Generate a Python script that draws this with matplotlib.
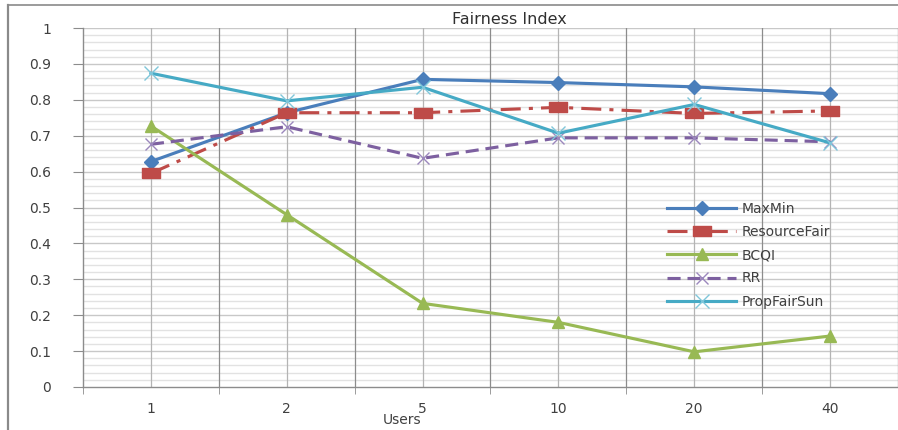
import numpy as np
import matplotlib
matplotlib.use("Agg")
import matplotlib.pyplot as plt
from matplotlib.lines import Line2D

# data
users = ["1", "2", "5", "10", "20", "40"]
maxmin = [0.628, 0.764, 0.857, 0.848, 0.836, 0.817]
resourcefair = [0.595, 0.764, 0.764, 0.779, 0.762, 0.769]
bcqi = [0.727, 0.480, 0.233, 0.180, 0.098, 0.142]
rr = [0.676, 0.725, 0.637, 0.694, 0.694, 0.683]
propfairsun = [0.874, 0.797, 0.835, 0.707, 0.787, 0.680]

W, H = 898, 430
fig = plt.figure(figsize=(W / 100, H / 100), dpi=100)
plt.rcParams['font.family'] = ['DejaVu Sans']

# plot area: left edge x=83, top y=28, bottom y=387, runs off the right side
ax = fig.add_axes([83 / W, (H - 387) / H, 1 - 83 / W, (387 - 28) / H])
x = np.arange(len(users))
ax.set_xlim(-0.5, (W - 152) / 137.6)
ax.set_ylim(0, 1)

# grid (excel look)
ax.set_yticks(np.arange(0, 1.01, 0.1))
ax.set_yticklabels(["0" if v == 0 else ("1" if v == 1 else "%.1f" % v) for v in np.arange(0, 1.01, 0.1)])
for y in np.arange(0.02, 1.001, 0.02):
    major = abs(y * 10 - round(y * 10)) < 1e-6
    ax.axhline(y, color="#c8c8c8" if major else "#e2e2e2", lw=1.0, zorder=0)
for i in x:
    ax.axvline(i, color="#b4b4b4", lw=0.9, zorder=0)
for b in np.arange(0.5, 6, 1):
    ax.axvline(b, color="#8c8c8c", lw=0.9, zorder=0)

ax.set_xticks(x)
ax.set_xticklabels(users)
ax.set_xticks(np.arange(-0.5, 6, 1), minor=True)
ax.tick_params(axis="x", which="major", length=0, pad=11, labelsize=10, colors="#404040")
ax.tick_params(axis="x", which="minor", length=5, color="#8c8c8c")
ax.tick_params(axis="y", which="major", length=7, color="#8c8c8c", pad=16, labelsize=10, labelcolor="#404040")
for s in ["top", "right"]:
    ax.spines[s].set_visible(False)
for s in ["left", "bottom"]:
    ax.spines[s].set_color("#8c8c8c")
    ax.spines[s].set_linewidth(1.0)

# wide flat box marker like the excel one
rect = [(-1, -0.55), (1, -0.55), (1, 0.55), (-1, 0.55), (-1, -0.55)]

lw = 2.25
ax.plot(x, maxmin, color="#4a7ebb", lw=lw, marker="D", ms=7, label="MaxMin", zorder=3)
ax.plot(x, resourcefair, color="#be4b48", lw=lw, marker=rect, ms=13, dashes=(6.4, 2.6, 1.3, 2.6),
        label="ResourceFair", zorder=3)
ax.plot(x, bcqi, color="#98b954", lw=lw, marker="^", ms=9, label="BCQI", zorder=3)
ax.plot(x, rr, color="#7d60a0", lw=lw, marker="x", ms=9, mew=1, mec="#9b87bd", dashes=(4.2, 2.2),
        label="RR", zorder=3)
ax.plot(x, propfairsun, color="#46aac5", lw=lw, marker="x", ms=10, mew=1, mec="#7fc6da",
        label="PropFairSun", zorder=3)

ax.legend(loc="upper left", bbox_to_anchor=(660 / W, 1 - 195 / H), bbox_transform=fig.transFigure,
          frameon=False, fontsize=10, handlelength=5.0, handletextpad=0.4, labelspacing=0.66,
          borderpad=0, labelcolor="#404040")

fig.text(509 / W, 1 - 20 / H, "Fairness Index", ha="center", va="center", fontsize=11.5, color="#303030")
fig.text(402 / W, 1 - 420 / H, "Users", ha="center", va="center", fontsize=10, color="#404040")

# outer chart border (top and left visible)
fig.add_artist(Line2D([8 / W, 8 / W], [0, 1 - 5 / H], transform=fig.transFigure, color="#8a8a8a", lw=1.6))
fig.add_artist(Line2D([8 / W, 1], [1 - 5 / H, 1 - 5 / H], transform=fig.transFigure, color="#8a8a8a", lw=1.2))

fig.savefig("out.png", dpi=100)
